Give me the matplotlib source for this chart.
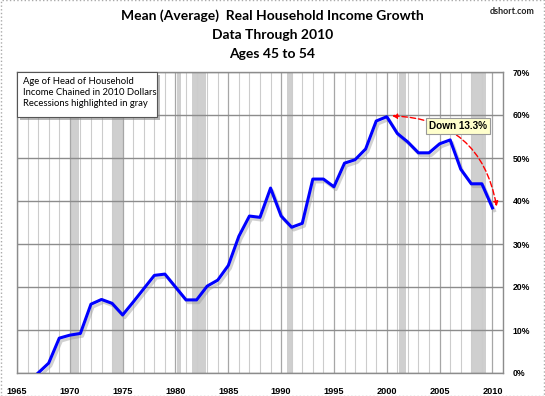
import matplotlib
matplotlib.use("Agg")
import matplotlib.pyplot as plt
import matplotlib.patheffects as pe
from matplotlib.patches import Rectangle

# Mean real household income growth, ages 45-54 (percent above 1967)
years = list(range(1967, 2011))
growth = [
    0.0, 2.3, 8.1, 8.8, 9.2, 16.0, 17.1, 16.2, 13.5, 16.5,
    19.6, 22.7, 23.0, 20.0, 17.0, 17.0, 20.2, 21.6, 25.0, 31.8,
    36.5, 36.2, 43.0, 36.5, 33.9, 34.8, 45.1, 45.1, 43.3, 48.8,
    49.6, 52.1, 58.6, 59.6, 55.7, 53.7, 51.2, 51.2, 53.3, 54.2,
    47.4, 44.0, 44.0, 38.4,
]

# recession periods (fractional years)
recessions = [
    (1970.0, 1970.85),
    (1974.0, 1975.0),
    (1980.1, 1980.5),
    (1981.6, 1982.9),
    (1990.6, 1991.1),
    (2001.2, 2001.8),
    (2008.05, 2009.4),
]

title_lines = [
    "Mean (Average)  Real Household Income Growth",
    "Data Through 2010",
    "Ages 45 to 54",
]
info_lines = [
    "Age of Head of Household",
    "Income Chained in 2010 Dollars",
    "Recessions highlighted in gray",
]
down_label = "Down 13.3%"

fig = plt.figure(figsize=(5.45, 3.96), dpi=100)
ax = fig.add_axes([17 / 545, 1 - 373 / 396, (503 - 17) / 545, (373 - 72) / 396])

for start, end in recessions:
    ax.axvspan(start, end, color="#cfcfcf", lw=0, zorder=0)

ax.plot(
    years, growth, color="#0000ff", lw=2.2, zorder=3,
    path_effects=[
        pe.SimpleLineShadow(offset=(1.5, -2), shadow_color="#999999", alpha=0.45),
        pe.Normal(),
    ],
)

ax.set_xlim(1965, 2011)
ax.set_ylim(0, 70)
ax.set_xticks(range(1965, 2011, 5))
ax.set_xticks(range(1965, 2012), minor=True)
ax.set_yticks(range(0, 71, 10))
ax.set_yticklabels([f"{v}%" for v in range(0, 71, 10)])
ax.yaxis.tick_right()

ax.grid(which="minor", axis="x", color="#cccccc", lw=0.8, zorder=1)
ax.grid(which="major", axis="x", color="#a6a6a6", lw=0.9, zorder=1)
ax.grid(which="major", axis="y", color="#8c8c8c", lw=1.0, zorder=1)
ax.set_axisbelow(True)

for s in ax.spines.values():
    s.set_color("#8c8c8c")
    s.set_linewidth(1.0)

ax.tick_params(which="both", length=0)
ax.tick_params(axis="x", pad=10)
ax.tick_params(axis="y", pad=7)
for lbl in ax.get_xticklabels():
    lbl.set_fontfamily("Liberation Sans")
    lbl.set_fontweight("bold")
    lbl.set_fontsize(6.6)
for lbl in ax.get_yticklabels():
    lbl.set_fontfamily("Liberation Sans")
    lbl.set_fontweight("bold")
    lbl.set_fontsize(6.2)

# curved "down" arrow from the 2000 peak to 2010
peak = growth.index(max(growth))
ax.annotate(
    "", xy=(years[-1] + 0.4, growth[-1] + 0.3), xytext=(years[peak] + 0.5, growth[peak] + 0.2),
    arrowprops=dict(arrowstyle="<|-|>", color="red", lw=1.0, ls=(0, (4, 2)),
                    mutation_scale=7, connectionstyle="arc3,rad=-0.4",
                    shrinkA=0, shrinkB=0),
    zorder=4,
)
ax.text(2006.7, 57.4, down_label, ha="center", va="center", fontsize=7.2,
        fontweight="bold", family="Liberation Sans", zorder=5,
        bbox=dict(boxstyle="square,pad=0.3", fc="#ffffcc", ec="#999999", lw=0.8))

# info box
box = Rectangle((17 / 545, 1 - 117 / 396), 140 / 545, 45 / 396, transform=fig.transFigure,
                fc="white", ec="#555555", lw=0.8, zorder=10,
                path_effects=[pe.SimplePatchShadow(offset=(2, -2), shadow_rgbFace="#888888", alpha=0.6),
                              pe.Normal()])
fig.patches.append(box)
fig.text(23 / 545, 1 - 77 / 396, "\n".join(info_lines), ha="left", va="top", fontsize=6.8,
         family="Lato", linespacing=1.25, zorder=11)

for i, line in enumerate(title_lines):
    fig.text(0.5, 1 - (16 + 19 * i) / 396, line, ha="center", va="center",
             fontsize=10, fontweight="bold", family="Lato")
fig.text(535 / 545, 1 - 12 / 396, "dshort.com", ha="right", va="center", fontsize=6.5,
         fontweight="bold", family="Lato", color="#222222")

fig.patches.append(Rectangle((0.001, 0.001), 0.998, 0.998, transform=fig.transFigure,
                             fill=False, ec="#aaaaaa", lw=1.0, ls=":"))

fig.savefig("out.png", dpi=100)
